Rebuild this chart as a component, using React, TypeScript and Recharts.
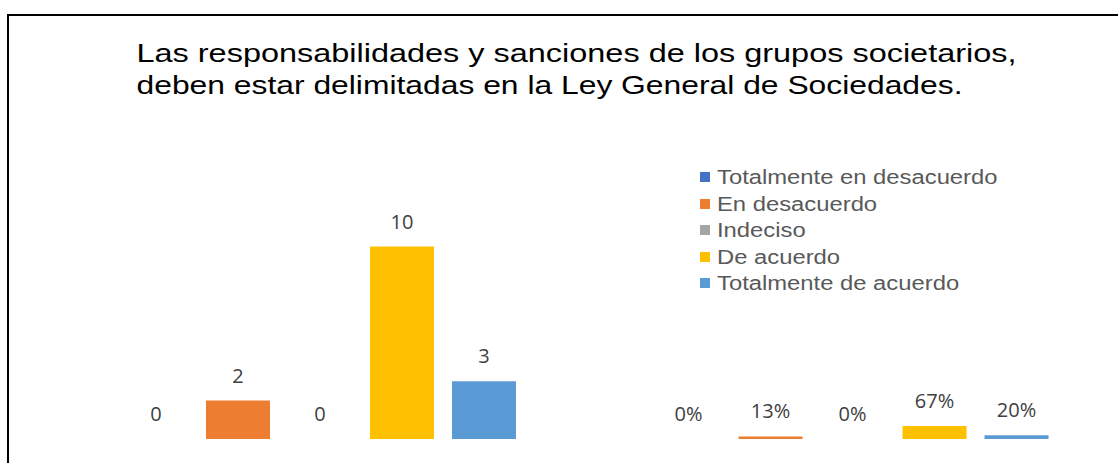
import React from 'react';
import { BarChart, Bar, XAxis, YAxis, Legend } from 'recharts';

const categories = ['Frecuencia', 'Porcentaje'];
const totalmenteEnDesacuerdo = [0, 0];
const enDesacuerdo = [2, 0.13];
const indeciso = [0, 0];
const deAcuerdo = [10, 0.67];
const totalmenteDeAcuerdo = [3, 0.2];

const seriesNames = [
  'Totalmente en desacuerdo',
  'En desacuerdo',
  'Indeciso',
  'De acuerdo',
  'Totalmente de acuerdo',
];
const seriesColors = ['#4472C4', '#ED7D31', '#A5A5A5', '#FFC000', '#5B9BD5'];
const seriesValues = [totalmenteEnDesacuerdo, enDesacuerdo, indeciso, deAcuerdo, totalmenteDeAcuerdo];

const titleLines = [
  'Las responsabilidades y sanciones de los grupos societarios,',
  'deben estar delimitadas en la Ley General de Sociedades.',
];

const data = categories.map((name, i) => {
  const row: Record<string, any> = { name };
  seriesNames.forEach((s, k) => {
    row[s] = seriesValues[k][i];
  });
  return row;
});

const renderLabel = (props: any) => {
  const { x, y, width, height, value, index } = props;
  const isPct = index !== undefined ? index === 1 : x > 586;
  const v = Number(value);
  const txt = isPct ? `${Math.round(v * 100)}%` : String(v);
  const top = Math.min(Number(y), Number(y) + Number(height || 0));
  const yy = v === 0 ? Number(y) + Number(height || 0) : top;
  return (
    <text
      x={Number(x) + Number(width) / 2}
      y={yy - 18}
      textAnchor="middle"
      fontFamily="'Open Sans', sans-serif"
      fontSize={20}
      fill="#404040"
    >
      {txt}
    </text>
  );
};

const renderLegend = (props: any) => {
  const payload = [...(props.payload || [])].sort(
    (a: any, b: any) => seriesNames.indexOf(a.value) - seriesNames.indexOf(b.value)
  );
  return (
    <div style={{ fontFamily: "'Liberation Sans', Arial, sans-serif", fontSize: 20, color: '#595959' }}>
      {payload.map((entry: any) => (
        <div key={entry.value} style={{ height: 26.5, display: 'flex', alignItems: 'center', whiteSpace: 'nowrap' }}>
          <span style={{ display: 'inline-block', width: 10, height: 10, background: entry.color, marginRight: 7 }} />
          <span style={{ display: 'inline-block', transform: 'scaleX(1.19)', transformOrigin: 'left center', lineHeight: '26px' }}>
            {entry.value}
          </span>
        </div>
      ))}
    </div>
  );
};

export default function App() {
  return (
    <div style={{ position: 'absolute', left: 0, top: 0, width: 1118, height: 463, overflow: 'hidden', background: '#ffffff' }}>
      <div
        style={{
          position: 'absolute',
          left: 7,
          top: 14,
          width: 1300,
          height: 700,
          borderLeft: '2px solid #000',
          borderTop: '2px solid #000',
          boxSizing: 'border-box',
        }}
      />
      <svg width={1118} height={120} style={{ position: 'absolute', left: 0, top: 0 }}>
        <text x={136.5} y={61.7} fontFamily="'Liberation Sans', Arial, sans-serif" fontSize={26} fill="#000" textLength={880} lengthAdjust="spacingAndGlyphs">
          {titleLines[0]}
        </text>
        <text x={136.5} y={93.5} fontFamily="'Liberation Sans', Arial, sans-serif" fontSize={26} fill="#000" textLength={826} lengthAdjust="spacingAndGlyphs">
          {titleLines[1]}
        </text>
      </svg>
      <div style={{ position: 'absolute', left: 0, top: 0 }}>
        <BarChart
          width={1120}
          height={463}
          data={data}
          margin={{ top: 208, right: 1, bottom: 24, left: 54 }}
          barSize={64}
          barGap={18}
        >
          <XAxis dataKey="name" hide />
          <YAxis hide domain={[0, 12]} />
          <Legend
            layout="vertical"
            align="center"
            verticalAlign="middle"
            itemSorter={null as any}
            content={renderLegend}
            wrapperStyle={{ left: 700, top: 164, width: 330 }}
          />
          {seriesNames.map((s, k) => (
            <Bar
              key={s}
              dataKey={s}
              fill={seriesColors[k]}
              isAnimationActive={false}
              minPointSize={(v: any) => (Number(v) === 0 ? 0.01 : 0)}
              label={renderLabel}
            />
          ))}
        </BarChart>
      </div>
    </div>
  );
}
